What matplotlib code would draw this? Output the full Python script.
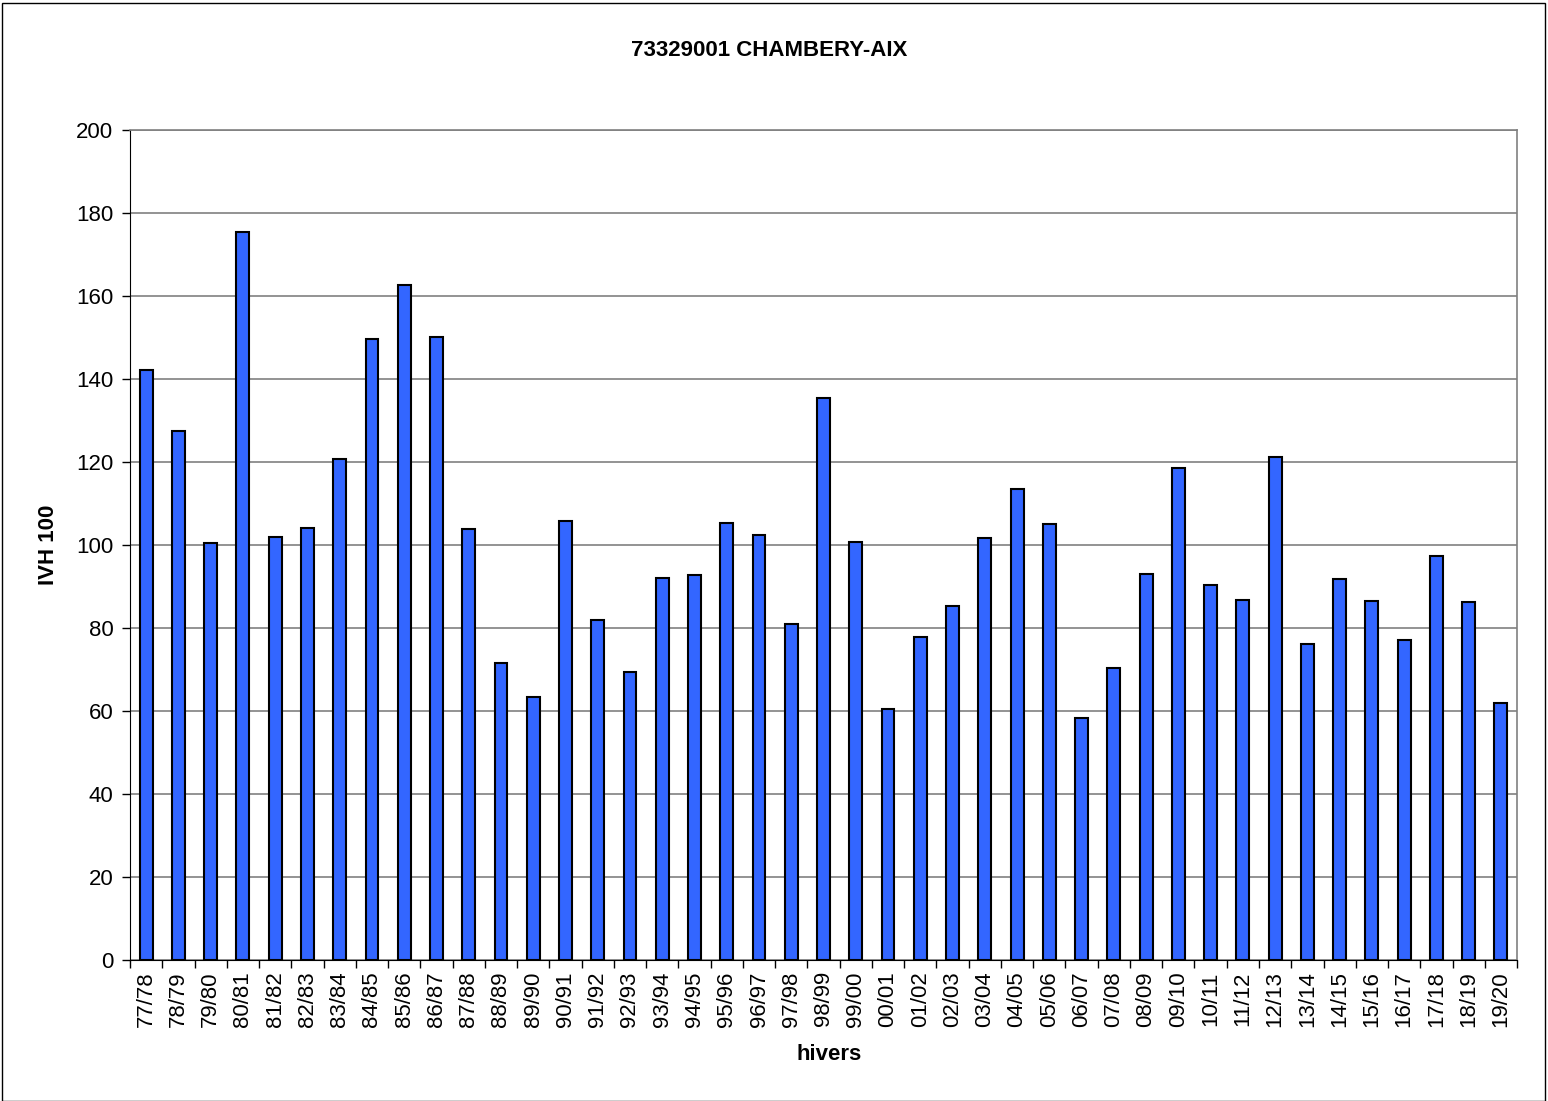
import matplotlib.pyplot as plt
import numpy as np
from matplotlib.patches import Rectangle

# data
WINTERS = [
    "77/78", "78/79", "79/80", "80/81", "81/82", "82/83", "83/84", "84/85",
    "85/86", "86/87", "87/88", "88/89", "89/90", "90/91", "91/92", "92/93",
    "93/94", "94/95", "95/96", "96/97", "97/98", "98/99", "99/00", "00/01",
    "01/02", "02/03", "03/04", "04/05", "05/06", "06/07", "07/08", "08/09",
    "09/10", "10/11", "11/12", "12/13", "13/14", "14/15", "15/16", "16/17",
    "17/18", "18/19", "19/20",
]
IVH_100 = [
    142.2, 127.5, 100.5, 175.4, 101.9, 104.1, 120.7, 149.6,
    162.7, 150.1, 103.9, 71.6, 63.4, 105.8, 81.9, 69.4,
    92.0, 92.8, 105.3, 102.4, 81.0, 135.4, 100.7, 60.5,
    77.8, 85.3, 101.7, 113.5, 105.1, 58.3, 70.4, 93.0,
    118.6, 90.4, 86.7, 121.2, 76.1, 91.8, 86.5, 77.1,
    97.3, 86.3, 61.9,
]
Y_TICKS = [0, 20, 40, 60, 80, 100, 120, 140, 160, 180, 200]

plt.rcParams.update({
    "font.family": ["Liberation Sans", "DejaVu Sans"],
    "font.size": 16,
})

fig = plt.figure(figsize=(15.48, 11.01), dpi=100)
ax = fig.add_axes([0.084, 0.128, 0.896, 0.754])

x = np.arange(len(WINTERS))
ax.bar(x, IVH_100, width=0.4, color="#3366ff", edgecolor="black", linewidth=1.5, zorder=3)

ax.set_xlim(-0.5, len(WINTERS) - 0.5)
ax.set_ylim(0, 200)
ax.set_yticks(Y_TICKS)
ax.yaxis.grid(True, color="#808080", linewidth=1.2, zorder=0)

# ticks between categories, labels centred under the bars
ax.set_xticks(np.arange(len(WINTERS) + 1) - 0.5)
ax.set_xticklabels([])
ax.set_xticks(x, minor=True)
ax.set_xticklabels(WINTERS, minor=True, rotation=90, fontsize=16)
ax.tick_params(axis="x", which="minor", length=0, pad=8)
ax.tick_params(axis="x", which="major", length=6, width=1, color="black", direction="out")
ax.tick_params(axis="y", length=6, width=1, direction="out", labelsize=16, pad=6)

for side in ("top", "right"):
    ax.spines[side].set_color("#808080")
    ax.spines[side].set_linewidth(1.2)
ax.spines["left"].set_color("black")
ax.spines["bottom"].set_color("black")

ax.set_xlabel("hivers", fontweight="bold", fontsize=16)
ax.xaxis.set_label_coords(0.504, -0.101)
ax.set_ylabel("IVH 100", fontweight="bold", fontsize=16, labelpad=12)
fig.text(0.497, 0.954, "73329001 CHAMBERY-AIX", ha="center", va="center",
         fontweight="bold", fontsize=16)

# thin frame around the whole chart
fig.patches.append(Rectangle((0.0015, 0.0), 0.9965, 0.997, transform=fig.transFigure,
                             fill=False, edgecolor="black", linewidth=1.0))

fig.savefig("out.png", dpi=100)
